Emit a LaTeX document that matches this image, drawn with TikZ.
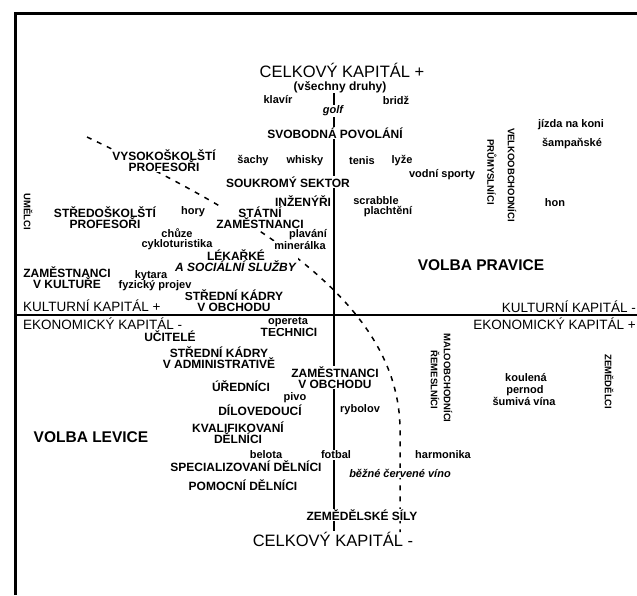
\documentclass[tikz,border=0pt]{standalone}
\usepackage{fontspec}
\setmainfont{Liberation Sans}
\usetikzlibrary{backgrounds}
\tikzset{
  bigcap/.style={font=\fontsize{16.5}{18}\selectfont, inner sep=1pt},
  capital/.style={font=\fontsize{13.5}{15}\selectfont, inner sep=0pt},
  group/.style={font=\fontsize{12}{11}\selectfont\bfseries, align=center, fill=white, inner sep=1pt},
  taste/.style={font=\fontsize{11}{12}\selectfont\bfseries, fill=white, inner sep=1pt},
  tastei/.style={taste, font=\fontsize{11}{12}\selectfont\bfseries\itshape},
  turned/.style={font=\fontsize{9.5}{10}\selectfont\bfseries, rotate=-90, inner sep=1pt},
  vote/.style={font=\fontsize{15.5}{17}\selectfont\bfseries},
  axis/.style={line width=2.6pt},
  haxis/.style={line width=1.8pt},
  divide/.style={line width=1.5pt, dash pattern=on 5pt off 6pt},
  frame/.style={line width=3pt}
}

\begin{document}
\begin{tikzpicture}[x=1pt, y=-1pt]
  \useasboundingbox (0,0) rectangle (637,595);
  % total capital (vertical)
  \node[bigcap] (celkplus) at (342,70) {CELKOVÝ KAPITÁL +};
  \node[font=\fontsize{12}{13}\selectfont\bfseries, inner sep=0.5pt] (druhy) at (340,87) {(všechny druhy)};
  \node[bigcap] (celkminus) at (333,539) {CELKOVÝ KAPITÁL -};
  % cultural / economic capital (horizontal)
  \node[capital, anchor=west] (kulplus) at (23,306) {KULTURNÍ KAPITÁL +};
  \node[capital, anchor=west] (ekominus) at (23,324) {EKONOMICKÝ KAPITÁL -};
  \node[capital, anchor=east] (kulminus) at (636,307) {KULTURNÍ KAPITÁL -};
  \node[capital, anchor=east] (ekoplus) at (636,324) {EKONOMICKÝ KAPITÁL +};
  \node[vote] (pravice) at (481,265) {VOLBA PRAVICE};
  \node[vote] (levice) at (91,437) {VOLBA LEVICE};
  % positions
  \node[group] (svob) at (335,133) {SVOBODNÁ POVOLÁNÍ};
  \node[group] (soukr) at (288,182) {SOUKROMÝ SEKTOR};
  \node[group] (inz) at (303,201) {INŽENÝŘI};
  \node[group] (vysprof) at (164,160.5) {VYSOKOŠKOLŠTÍ\\PROFESOŘI};
  \node[group] (stredprof) at (105,217.5) {STŘEDOŠKOLŠTÍ\\PROFESOŘI};
  \node[group] (statni) at (260,217.5) {STÁTNÍ\\ZAMĚSTNANCI};
  \node[group] (lekar) at (236,261) {LÉKAŘKÉ\\\textit{A SOCIÁLNÍ SLUŽBY}};
  \node[group] (zamkult) at (67,277.5) {ZAMĚSTNANCI\\V KULTUŘE};
  \node[group] (stredobch) at (234,301) {STŘEDNÍ KÁDRY\\V OBCHODU};
  \node[group] (technici) at (289,332) {TECHNICI};
  \node[group] (ucitele) at (170,336) {UČITELÉ};
  \node[group] (stredadm) at (219,358) {STŘEDNÍ KÁDRY\\V ADMINISTRATIVĚ};
  \node[group] (zamobch) at (335,377.5) {ZAMĚSTNANCI\\V OBCHODU};
  \node[group] (urednici) at (241,386) {ÚŘEDNÍCI};
  \node[group] (dilo) at (260,410) {DÍLOVEDOUCÍ};
  \node[group] (kvalif) at (238,432.5) {KVALIFIKOVANÍ\\DĚLNÍCI};
  \node[group] (special) at (246,466) {SPECIALIZOVANÍ DĚLNÍCI};
  \node[group] (pomocni) at (243,485) {POMOCNÍ DĚLNÍCI};
  \node[group] (zemsily) at (362,515) {ZEMĚDĚLSKÉ SÍLY};
  \node[turned] (umelci) at (28,212) {UMĚLCI};
  \node[turned] (prumysl) at (492,172) {PRŮMYSLNÍCI};
  \node[turned] (velkoobch) at (512,175) {VELKOOBCHODNÍCI};
  \node[turned] (remesl) at (435,380) {ŘEMESLNÍCI};
  \node[turned] (malo) at (448,378) {MALOOBCHODNÍCI};
  \node[turned] (zemedelci) at (609,382) {ZEMĚDĚLCI};
  % tastes
  \foreach \n/\x/\y/\t in {klavir/278/100/klavír, bridz/396/100/bridž,
      sachy/253/161/šachy, whisky/305/161/whisky, tenis/362/161/tenis,
      lyze/402/161/lyže, vodni/442/175/vodní sporty, scrabble/376/201/scrabble,
      plachteni/388/212/plachtění, hory/193/212/hory, chuze/177/233/chůze,
      cyklo/177/245/cykloturistika, plavani/308/235/plavání,
      mineralka/300/246/minerálka, kytara/151/276/kytara,
      fyz/155/286/fyzický projev, jizda/571/125/jízda na koni,
      sampan/572/144/šampaňské, hon/555/203/hon, opereta/288/322/opereta,
      pivo/295/398/pivo, rybolov/360/410/rybolov, belota/266/455/belota,
      fotbal/336/455/fotbal, harmonika/443/455/harmonika,
      koulena/526/378/koulená, pernod/525/391/pernod, sumiva/524/401/šumivá vína} {
    \node[taste] (\n) at (\x,\y) {\t};
  }
  \node[tastei] (golf) at (333,111) {golf};
  \node[tastei] (cervene) at (400,473) {běžné červené víno};
  % axes and dividing line
  \coordinate (axx) at (334,0);
  \coordinate (hl) at (16,315);
  \coordinate (hr) at (637,315);
  \coordinate (cs) at (87,137);
  \coordinate (cb) at (400,532);
  \begin{scope}[on background layer]
    \draw[frame] (15,595) -- (15,13) -- (637,13);
    \draw[axis] (druhy.south -| axx) -- (celkminus.north -| axx);
    \draw[haxis] (hl) -- (hr);
    \draw[divide] (cs) .. controls (250,215) and (400,300) .. (400,430) -- (cb);
  \end{scope}
\end{tikzpicture}
\end{document}
